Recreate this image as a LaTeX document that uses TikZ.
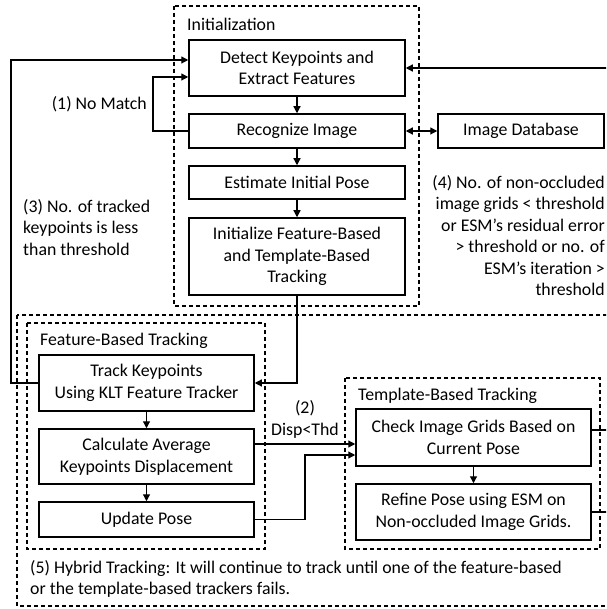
\documentclass[tikz,border=0pt]{standalone}
\usepackage{fontspec}
\setmainfont{Carlito}
\usetikzlibrary{arrows,arrows.meta,positioning}
\tikzset{
    box/.style={draw, line width=1.5pt, align=center, inner sep=2pt},
    grp/.style={draw, line width=1.2pt, dash pattern=on 4pt off 3pt},
    lbl/.style={inner sep=0pt},
    conn/.style={line width=1.2pt, >={Triangle[length=7pt,width=7pt]}}
}

\begin{document}
\begin{tikzpicture}[x=1pt,y=-1pt,font=\fontsize{17.8}{21.5}\selectfont]
\useasboundingbox (0,0) rectangle (606,609);
\clip (0,0) rectangle (606,609);
% group frames
\draw[grp] (174,6) rectangle (419,306);
\draw[grp] (17,315) rectangle (630,606);
\draw[grp] (27,323) rectangle (265,549);
\draw[grp] (345,378) rectangle (600,549);
\node[lbl,anchor=west] (tinit) at (187,24) {Initialization};
\node[lbl,anchor=west] (tfeat) at (40,341) {Feature-Based Tracking};
\node[lbl,anchor=west] (ttmpl) at (358,396) {Template-Based Tracking};
% initialization
\node[box,minimum width=216pt,minimum height=56pt] (detect) at (297,68) {Detect Keypoints and\\Extract Features};
\node[box,minimum width=216pt,minimum height=34pt] (recog) at (297,131) {Recognize Image};
\node[box,minimum width=216pt,minimum height=33pt] (estim) at (297,182.5) {Estimate Initial Pose};
\node[box,minimum width=216pt,minimum height=77pt] (initz) at (297,256.5) {Initialize Feature-Based\\and Template-Based\\Tracking};
\node[box,minimum width=166pt,minimum height=34pt] (imgdb) at (521,131) {Image Database};
% feature-based
\node[box,minimum width=215pt,minimum height=56pt] (track) at (146.5,383) {Track Keypoints\\Using KLT Feature Tracker};
\node[box,minimum width=215pt,minimum height=55pt] (calc) at (146.5,456.5) {Calculate Average\\Keypoints Displacement};
\node[box,minimum width=215pt,minimum height=35pt] (update) at (146.5,519.5) {Update Pose};
% template-based
\node[box,minimum width=235pt,minimum height=57pt] (check) at (473.5,437.5) {Check Image Grids Based on\\Current Pose};
\node[box,minimum width=235pt,minimum height=56pt] (refine) at (473.5,512) {Refine Pose using ESM on\\Non-occluded Image Grids.};
% notes
\node[lbl,anchor=east] (n1) at (147,104) {(1) No Match};
\node[lbl,align=center] (n2) at (305,419.5) {(2)\\Disp<Thd};
\node[lbl,align=left,anchor=north west] (n3) at (23,199) {(3) No. of tracked\\keypoints is less\\than threshold};
\node[lbl,align=right,anchor=north east] (n4) at (605,175) {(4) No. of non-occluded\\image grids < threshold\\or ESM’s residual error\\> threshold or no. of\\ESM’s iteration >\\threshold};
\node[lbl,align=left,anchor=north west] (n5) at (30,560) {(5) Hybrid Tracking: It will continue to track until one of the feature-based\\or the template-based trackers fails.};
% helper points
\coordinate (nm) at (153,131);
\coordinate (lp) at (11,383);
\coordinate (up) at (305,519.5);
\coordinate (in4) at (610,68);
\coordinate (out1) at (610,430);
\coordinate (out2) at (610,512);
% connectors
\draw[conn,->] (detect) -- (recog);
\draw[conn,->] (recog) -- (estim);
\draw[conn,->] (estim) -- (initz);
\draw[conn,<->] (recog) -- (imgdb);
\draw[conn,->] (recog.west) -- (nm) |- ([yshift=-9pt]detect.west);
\draw[conn,->] (track.west) -- (lp) |- ([yshift=8pt]detect.west);
\draw[conn,->] (in4) -- (detect.east);
\draw[conn,->] (initz.south) |- (track.east);
\draw[conn,->] (track) -- (calc);
\draw[conn,->] (calc) -- (update);
\draw[conn,->] ([yshift=12.5pt]calc.east) -- ([yshift=-6.5pt]check.west);
\draw[conn,->] (update.east) -- (up) |- ([yshift=-17.5pt]check.west);
\draw[conn,->] (check) -- (refine);
\draw[conn] ([yshift=7.5pt]check.east) -- (out1);
\draw[conn] (refine.east) -- (out2);
\end{tikzpicture}
\end{document}
